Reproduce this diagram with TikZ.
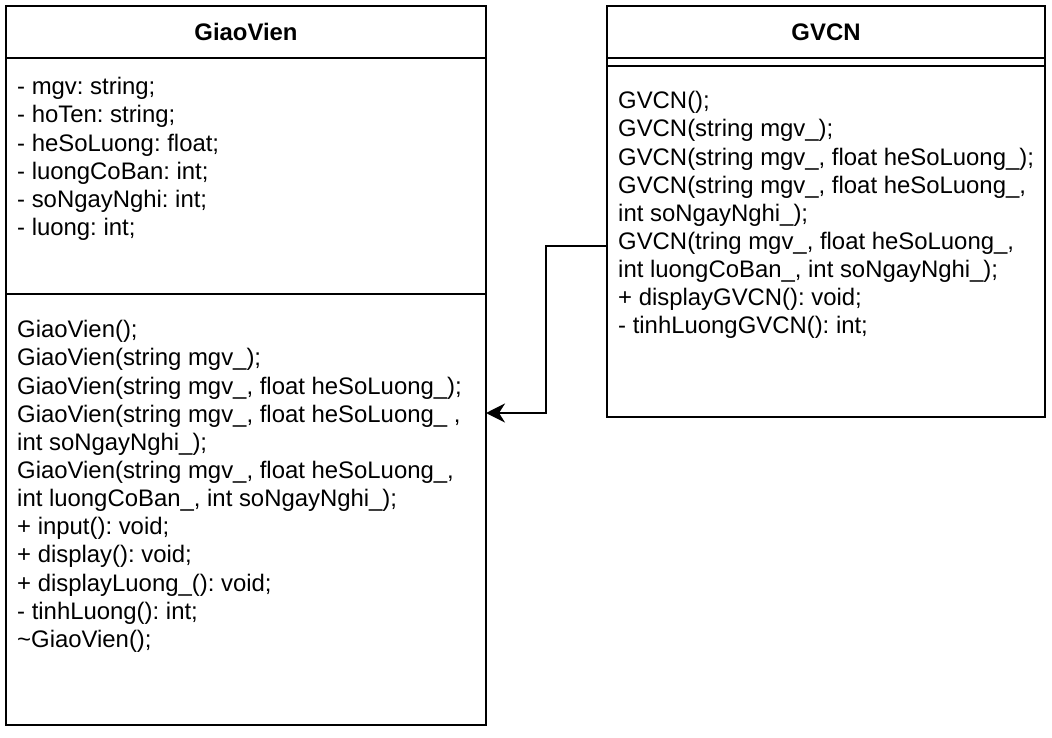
\documentclass[tikz,border=0pt]{standalone}
\usepackage{fontspec}
\setmainfont{Liberation Sans}
\frenchspacing
\usetikzlibrary{arrows.meta}
\begin{document}
\begin{tikzpicture}[x=1pt,y=-1pt,
  box/.style={draw=black, line width=2pt, rectangle, inner sep=0pt, outer sep=0pt},
  txt/.style={anchor=north west, inner sep=0pt, align=left, font=\fontsize{23.9}{28.15}\selectfont\frenchspacing},
  ttl/.style={inner sep=0pt, font=\fontsize{23.9}{28.15}\selectfont\bfseries},
  sepline/.style={line width=2pt},
  inh/.style={line width=2pt, -{Stealth[length=19pt,width=19pt,inset=6pt]}}]
\useasboundingbox (0,0) rectangle (1052,738);
\fill[white] (0,0) rectangle (1052,738);
% GiaoVien class
\node[box, minimum width=480pt, minimum height=719pt] (gv) at (246,365.5) {};
\node[ttl] (gvtitle) at (246,32) {GiaoVien};
\draw[sepline] (gv.west |- 0,58) -- (gv.east |- 0,58);
\draw[sepline] (gv.west |- 0,294) -- (gv.east |- 0,294);
\node[txt] (gvattr) at (17,74.8) {\strut- mgv: string;\\
- hoTen: string;\\
- heSoLuong: float;\\
- luongCoBan: int;\\
- soNgayNghi: int;\\
- luong: int;};
\node[txt] (gvmeth) at (17,317.8) {\strut GiaoVien();\\
GiaoVien(string mgv\_);\\
GiaoVien(string mgv\_, float heSoLuong\_);\\
GiaoVien(string mgv\_, float heSoLuong\_ ,\\
int soNgayNghi\_);\\
GiaoVien(string mgv\_, float heSoLuong\_,\\
int luongCoBan\_, int soNgayNghi\_);\\
+ input(): void;\\
+ display(): void;\\
+ displayLuong\_(): void;\\
- tinhLuong(): int;\\
\textasciitilde GiaoVien();};
% GVCN class
\node[box, minimum width=438pt, minimum height=411pt] (gvcn) at (826,211.5) {};
\node[ttl] (gvcntitle) at (826,32) {GVCN};
\draw[sepline] (gvcn.west |- 0,58) -- (gvcn.east |- 0,58);
\draw[sepline] (gvcn.west |- 0,66) -- (gvcn.east |- 0,66);
\node[txt] (gvcnmeth) at (618,88.8) {\strut GVCN();\\
GVCN(string mgv\_);\\
GVCN(string mgv\_, float heSoLuong\_);\\
GVCN(string mgv\_, float heSoLuong\_,\\
int soNgayNghi\_);\\
GVCN(tring mgv\_, float heSoLuong\_,\\
int luongCoBan\_, int soNgayNghi\_);\\
+ displayGVCN(): void;\\
- tinhLuongGVCN(): int;};
% inheritance connector
\coordinate (src) at (gvcn.west |- 0,246);
\coordinate (dst) at (gv.east |- 0,413);
\draw[inh] (src) -- (546,246) |- (dst);
\end{tikzpicture}
\end{document}
